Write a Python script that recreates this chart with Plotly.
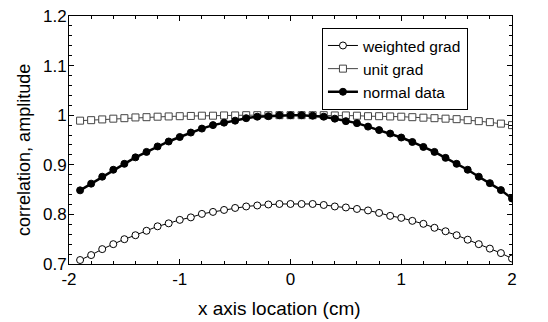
import plotly.graph_objects as go

x = [round(-1.9 + 0.1 * i, 1) for i in range(40)]

weighted_grad = [0.708, 0.718, 0.730, 0.740, 0.750, 0.758, 0.767, 0.776, 0.782, 0.789,
                 0.794, 0.801, 0.805, 0.809, 0.813, 0.816, 0.818, 0.820, 0.821, 0.821,
                 0.821, 0.821, 0.819, 0.816, 0.814, 0.811, 0.808, 0.803, 0.797, 0.793,
                 0.787, 0.781, 0.773, 0.766, 0.758, 0.749, 0.740, 0.731, 0.722, 0.711]

unit_grad = [0.989, 0.990, 0.9915, 0.993, 0.994, 0.9955, 0.996, 0.997, 0.9975, 0.998,
             0.9985, 0.999, 0.999, 0.9995, 0.9995, 1.0, 1.0, 1.0, 1.0, 1.0,
             1.0, 1.0, 1.0, 0.9995, 0.9995, 0.999, 0.998, 0.998, 0.9975, 0.997,
             0.996, 0.995, 0.994, 0.993, 0.992, 0.990, 0.988, 0.986, 0.983, 0.980]

normal_data = [0.8485, 0.862, 0.876, 0.890, 0.902, 0.915, 0.926, 0.937, 0.947, 0.956,
               0.965, 0.973, 0.980, 0.985, 0.989, 0.994, 0.997, 0.998, 1.0, 1.0,
               1.0, 0.999, 0.997, 0.993, 0.988, 0.984, 0.977, 0.970, 0.963, 0.955,
               0.946, 0.936, 0.926, 0.914, 0.902, 0.890, 0.876, 0.863, 0.849, 0.832]

x_tickvals = [-2, -1, 0, 1, 2]
x_ticktext = ["-2", "-1", "0", "1", "2"]

x_title = "x axis location (cm)"
y_title = "correlation, amplitude"

font = "Arial, Liberation Sans, sans-serif"

fig = go.Figure()
fig.add_trace(go.Scatter(
    x=x, y=unit_grad, name="unit grad", mode="lines+markers",
    line=dict(color="#444444", width=1),
    marker=dict(symbol="square", size=7, color="white",
                line=dict(color="#444444", width=1)),
    legendrank=2,
))
fig.add_trace(go.Scatter(
    x=x, y=normal_data, name="normal data", mode="lines+markers",
    line=dict(color="black", width=2.5),
    marker=dict(symbol="circle", size=7, color="black",
                line=dict(color="black", width=1)),
    legendrank=3,
))
fig.add_trace(go.Scatter(
    x=x, y=weighted_grad, name="weighted grad", mode="lines+markers",
    line=dict(color="black", width=1),
    marker=dict(symbol="circle", size=7, color="white",
                line=dict(color="black", width=1)),
    legendrank=1,
))

fig.update_layout(
    width=540, height=314,
    margin=dict(l=61, r=36, t=8, b=58, autoexpand=False),
    paper_bgcolor="white", plot_bgcolor="white",
    font=dict(family=font, size=17, color="black"),
    showlegend=True,
    legend=dict(
        x=0.571, y=0.952, xanchor="left", yanchor="top",
        bordercolor="black", borderwidth=1, bgcolor="white",
        font=dict(size=15.5), traceorder="normal",
        itemwidth=30, tracegroupgap=0,
    ),
    xaxis=dict(
        range=[-2, 2], tickvals=x_tickvals, ticktext=x_ticktext,
        ticks="inside", ticklen=5, tickcolor="black",
        showline=True, linecolor="black", linewidth=1, mirror="ticks",
        showgrid=False, zeroline=False, automargin=False,
        ticklabeloverflow="allow",
        minor=dict(dtick=0.2, tick0=-2, ticks="inside", ticklen=3, tickcolor="black", showgrid=False),
        tickfont=dict(size=17),
    ),
    yaxis=dict(
        range=[0.7, 1.2], dtick=0.1, tick0=0.7,
        ticks="inside", ticklen=5, tickcolor="black",
        showline=True, linecolor="black", linewidth=1, mirror="ticks",
        showgrid=False, zeroline=False, automargin=False,
        ticklabeloverflow="allow", ticklabelstandoff=-2,
        minor=dict(dtick=0.02, ticks="inside", ticklen=3, tickcolor="black", showgrid=False),
        tickfont=dict(size=17),
    ),
    annotations=[
        dict(text=x_title, xref="paper", yref="paper", x=0.476, y=0,
             xanchor="center", yanchor="middle", yshift=-44, showarrow=False,
             font=dict(size=19)),
        dict(text=y_title, xref="paper", yref="paper", x=0, y=0.46,
             xanchor="center", yanchor="middle", xshift=-45, textangle=-90,
             showarrow=False, font=dict(size=18)),
    ],
)

fig.write_html("out.html")
